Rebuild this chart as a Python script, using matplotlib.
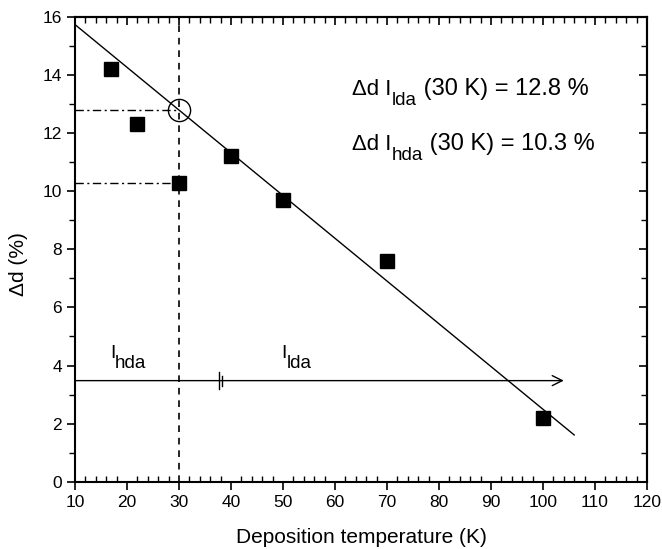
import matplotlib
matplotlib.use("Agg")
import matplotlib.pyplot as plt
from matplotlib import transforms
from matplotlib.ticker import MultipleLocator

plt.rcParams['font.family'] = ['Liberation Sans', 'DejaVu Sans']

# data
temps = [17, 22, 30, 40, 50, 70, 100]
delta_d = [14.2, 12.3, 10.3, 11.2, 9.7, 7.6, 2.2]
fit_x = [10, 106]
fit_y = [15.74, 1.61]
T_ref = 30
d_lda = 12.8
d_hda = 10.3
arrow_y = 3.48
arrow_x = [10, 104]
break_x = [37.7, 38.2]
break_half = [0.28, 0.17]

fig = plt.figure(figsize=(6.62, 5.49), dpi=100)
ax = fig.add_axes([0.1133, 0.1226, 0.8640, 0.8464])

ax.set_xlim(10, 120)
ax.set_ylim(0, 16)

ax.plot(fit_x, fit_y, color='black', lw=1.0)
ax.plot(temps, delta_d, 's', color='black', ms=9.5, zorder=5)

ax.axvline(T_ref, color='black', ls=(0, (4, 3.5)), lw=1.2)
ax.plot([10, T_ref], [d_lda, d_lda], color='black', lw=1.0, ls=(0, (6, 2.5, 1.5, 2.5)))
ax.plot([10, T_ref], [d_hda, d_hda], color='black', lw=1.0, ls=(0, (6, 2.5, 1.5, 2.5)))
ax.plot([T_ref], [d_lda], 'o', mfc='none', mec='black', ms=16, mew=1.0, zorder=6)

ax.annotate('', xy=(arrow_x[1], arrow_y), xytext=(arrow_x[0], arrow_y),
            arrowprops=dict(arrowstyle='->', color='black', lw=1.0,
                            mutation_scale=18, shrinkA=0, shrinkB=0))
for bx, bh in zip(break_x, break_half):
    ax.plot([bx, bx], [arrow_y - bh, arrow_y + bh], color='black', lw=1.0)

ax.xaxis.set_major_locator(MultipleLocator(10))
ax.xaxis.set_minor_locator(MultipleLocator(2))
ax.yaxis.set_major_locator(MultipleLocator(2))
ax.yaxis.set_minor_locator(MultipleLocator(1))

ax.tick_params(axis='both', which='major', direction='out', length=6, width=1.2,
               labelsize=12.5, top=False, right=False)
ax.tick_params(axis='x', which='minor', direction='in', length=4, width=1.0, top=False)
ax.tick_params(axis='y', which='minor', direction='out', length=4, width=1.0, right=False)

# top and right: ticks inward, no labels
secx = ax.secondary_xaxis('top')
secx.xaxis.set_major_locator(MultipleLocator(10))
secx.xaxis.set_minor_locator(MultipleLocator(2))
secx.tick_params(which='major', direction='in', length=6, width=1.2, labeltop=False)
secx.tick_params(which='minor', direction='in', length=4, width=1.0)
secx.spines['top'].set_linewidth(1.5)
secy = ax.secondary_yaxis('right')
secy.yaxis.set_major_locator(MultipleLocator(2))
secy.yaxis.set_minor_locator(MultipleLocator(1))
secy.tick_params(which='major', direction='in', length=6, width=1.2, labelright=False)
secy.tick_params(which='minor', direction='in', length=4, width=1.0)
secy.spines['right'].set_linewidth(1.5)

for s in ax.spines.values():
    s.set_linewidth(1.5)

ax.set_xlabel('Deposition temperature (K)', fontsize=15)
ax.xaxis.set_label_coords(0.5, -0.0996)
ax.set_ylabel('Δd (%)', fontsize=15)
ax.yaxis.set_label_coords(-0.082, 0.4685)

fig.canvas.draw()
renderer = fig.canvas.get_renderer()


def draw_parts(x, y, parts):
    dx = 0.0
    for s, size, dy in parts:
        tr = transforms.offset_copy(ax.transData, fig=fig, x=dx, y=dy, units='points')
        t = ax.text(x, y, s, fontsize=size, transform=tr, ha='left', va='baseline')
        w = t.get_window_extent(renderer).width
        dx += w * 72.0 / fig.dpi


draw_parts(16.7, 4.26, [('I', 14, 0), ('hda', 13.5, -7.2)])
draw_parts(49.7, 4.26, [('I', 14, 0), ('lda', 13.5, -7.2)])
draw_parts(63.3, 13.32, [('Δd I', 16, 0), ('lda', 13.5, -7.5), (' (30 K) = 12.8 %', 17, 0)])
draw_parts(63.3, 11.42, [('Δd I', 16, 0), ('hda', 13.5, -7.5), (' (30 K) = 10.3 %', 17, 0)])

fig.savefig('out.png', dpi=100)
